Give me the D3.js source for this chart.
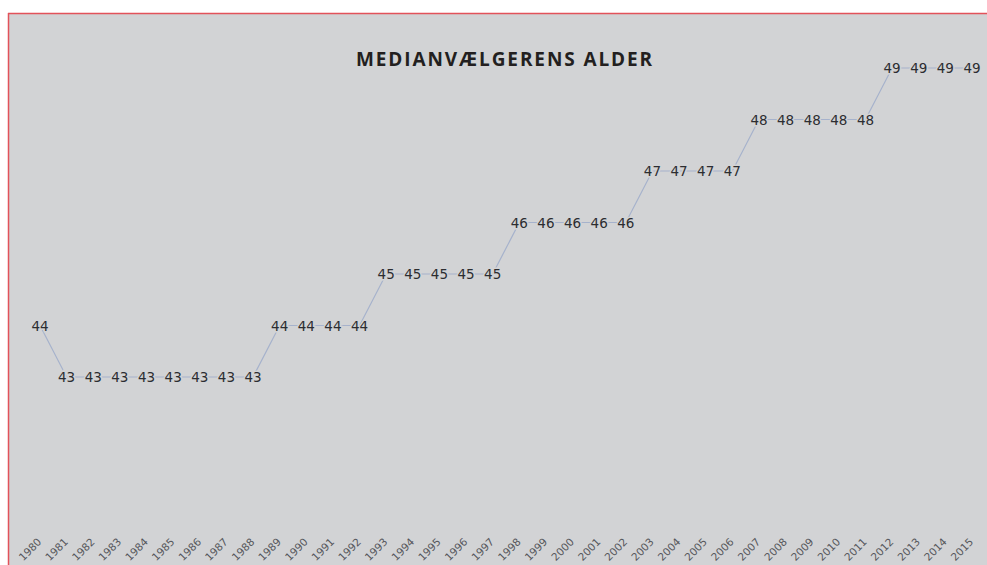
<!DOCTYPE html>
<html>
<head>
<meta charset="utf-8">
<script src="https://cdn.jsdelivr.net/npm/d3@7"></script>
<style>
  body { margin: 0; background: #fff; }
  svg { display: block; }
</style>
</head>
<body>
<svg width="987" height="565"></svg>
<script>
// median voter age per election year
const years = d3.range(1980, 2016).map(String);
const ages = [44,
  43, 43, 43, 43, 43, 43, 43, 43,
  44, 44, 44, 44,
  45, 45, 45, 45, 45,
  46, 46, 46, 46, 46,
  47, 47, 47, 47,
  48, 48, 48, 48, 48,
  49, 49, 49, 49];
const title = "MEDIANVÆLGERENS ALDER";

const bg = "#d2d3d5";
let svg = d3.select("svg");

// panel + red border (top and left)
svg.append("rect").attr("x", 8).attr("y", 13).attr("width", 979).attr("height", 552).attr("fill", bg);
svg.append("line").attr("x1", 8).attr("y1", 13.5).attr("x2", 987).attr("y2", 13.5)
  .attr("stroke", "#e2525a").attr("stroke-width", 1.5);
svg.append("line").attr("x1", 8.5).attr("y1", 13).attr("x2", 8.5).attr("y2", 565)
  .attr("stroke", "#e2525a").attr("stroke-width", 1.5);

let x = d3.scalePoint().domain(years).range([40, 972]);
let y = d3.scaleLinear().domain([43, 49]).range([377, 68]);

let data = years.map((d, i) => ({year: d, age: ages[i]}));

svg.append("path")
  .datum(data)
  .attr("fill", "none")
  .attr("stroke", "#a6b2cc")
  .attr("stroke-width", 1.2)
  .attr("d", d3.line().x(d => x(d.year)).y(d => y(d.age)));

// value labels sit on the points, with a halo hiding the line
svg.append("g").selectAll("text")
  .data(data)
  .join("text")
  .attr("x", d => x(d.year))
  .attr("y", d => y(d.age) + 5)
  .attr("text-anchor", "middle")
  .style("font-family", "DejaVu Sans, sans-serif")
  .style("font-size", "13.5px")
  .style("paint-order", "stroke")
  .attr("stroke", bg)
  .attr("stroke-width", 3)
  .attr("fill", "#2c2d31")
  .text(d => d.age);

// x axis labels, rotated
let xAxis = d3.axisBottom(x).tickSize(0).tickPadding(0);
let gx = svg.append("g").attr("transform", "translate(0,540)").call(xAxis);
gx.select(".domain").remove();
gx.selectAll("text")
  .style("font-family", "DejaVu Sans, sans-serif")
  .style("font-size", "10.5px")
  .attr("fill", "#55565b")
  .attr("text-anchor", "end")
  .attr("dy", "0.35em")
  .attr("transform", "translate(-1,0) rotate(-45)");

svg.append("text")
  .attr("x", 505)
  .attr("y", 66)
  .attr("text-anchor", "middle")
  .style("font-family", "Open Sans, sans-serif")
  .style("font-weight", "bold")
  .style("font-size", "19px")
  .style("letter-spacing", "1.9px")
  .attr("fill", "#231f20")
  .text(title);
</script>
</body>
</html>
